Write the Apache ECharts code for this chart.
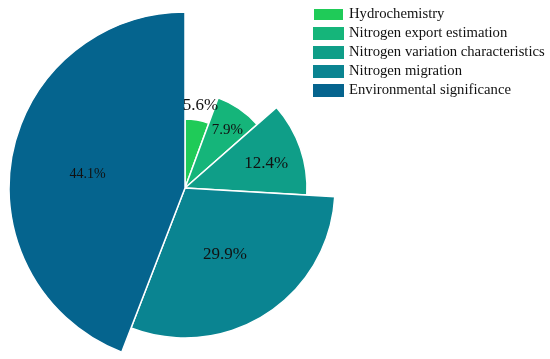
<!DOCTYPE html>
<html><head><meta charset="utf-8">
<script src="https://cdn.jsdelivr.net/npm/echarts@6/dist/echarts.min.js"></script>
<style>html,body{margin:0;padding:0;background:#fff}#chart{width:550px;height:359px}</style>
</head><body><div id="chart"></div>
<script>
// data
const categories = ['Hydrochemistry', 'Nitrogen export estimation', 'Nitrogen variation characteristics', 'Nitrogen migration', 'Environmental significance'];
const shares = [5.6, 7.9, 12.4, 29.9, 44.1];

// styles
const colors = ['#1fcb58', '#15b57a', '#0f9e88', '#0a8491', '#05648e'];
const sliceRadius = [69, 96, 122, 150, 176];
const labelRadius = [85, 72, 83, 71, 96];
const labelSize = [17, 15, 17, 17, 14];
const center = [185, 188];
const font = 'Liberation Serif';
const clear = 'rgba(0,0,0,0)';

const chart = echarts.init(document.getElementById('chart'), null, {renderer: 'canvas'});

const series = [];
categories.forEach((_, k) => {
  series.push({
    type: 'pie', center: center, radius: [0, sliceRadius[k]],
    startAngle: 90, clockwise: true, silent: true, animation: false, z: 2,
    label: {show: false}, labelLine: {show: false},
    data: categories.map((n, i) => ({
      name: n, value: shares[i],
      itemStyle: i === k ? {color: colors[i], borderColor: '#fff', borderWidth: 1.5}
                         : {color: clear, borderWidth: 0}
    }))
  });
});
categories.forEach((_, k) => {
  series.push({
    type: 'pie', center: center, radius: [0, 2 * labelRadius[k]],
    startAngle: 90, clockwise: true, silent: true, animation: false, z: 5,
    avoidLabelOverlap: false,
    labelLayout: {hideOverlap: false},
    labelLine: {show: false},
    data: categories.map((n, i) => ({
      name: n, value: shares[i],
      itemStyle: {color: clear, borderWidth: 0},
      label: i === k ? {
        show: true, position: 'inside',
        formatter: p => '{s|}\n{v|' + p.value + '%}',
        rich: {
          s: {height: 8, lineHeight: 8, fontSize: 1},
          v: {fontSize: labelSize[i], fontFamily: font, color: '#111', lineHeight: labelSize[i] + 2}
        }
      } : {show: false}
    }))
  });
});

chart.setOption({
  backgroundColor: '#fff',
  animation: false,
  legend: {
    orient: 'vertical', left: 307, top: 2,
    itemWidth: 31, itemHeight: 13, itemGap: 4, icon: 'rect',
    selectedMode: false,
    textStyle: {fontFamily: font, fontSize: 14.7, color: '#111'},
    data: categories.map((n, i) => ({name: n, itemStyle: {color: colors[i]}}))
  },
  series: series
});
</script>
</body></html>
